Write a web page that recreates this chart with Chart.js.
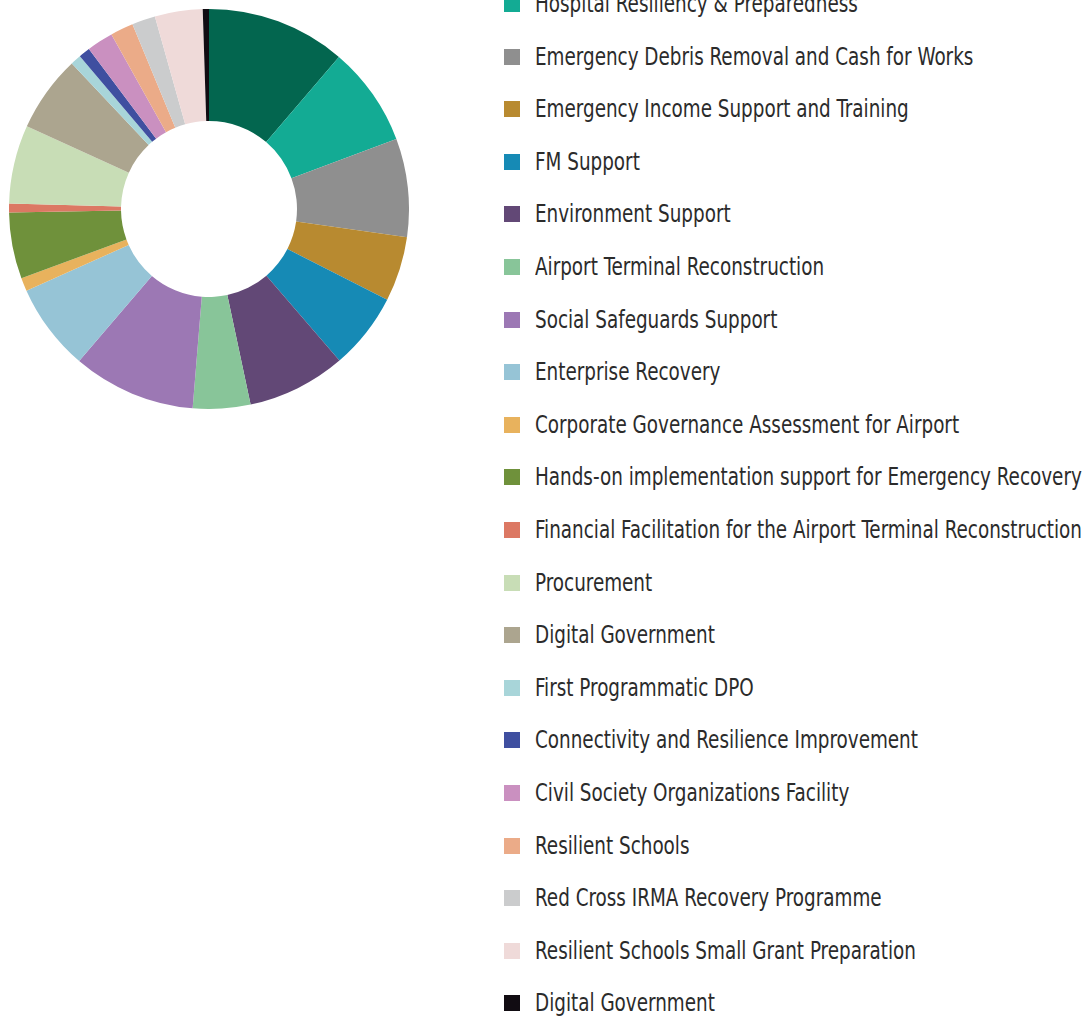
<!DOCTYPE html>
<html>
<head>
<meta charset="utf-8">
<script src="https://cdn.jsdelivr.net/npm/chart.js@4"></script>
<style>
  html, body { margin: 0; padding: 0; background: #fff; overflow: hidden; width: 1089px; height: 1019px; }
  #wrap { position: absolute; left: 9px; top: 9px; width: 400px; height: 400px; }
  #legend { position: absolute; left: 504px; top: -74.8px; margin: 0; padding: 0; list-style: none; }
  #legend li { height: 52.6px; display: flex; align-items: center; white-space: nowrap; }
  #legend .box { width: 16px; height: 16px; flex: none; }
  #legend .txt {
    margin-left: 14.5px; color: #2b2b2b; font-size: 24px;
    font-family: 'DejaVu Sans Condensed', 'DejaVu Sans', sans-serif; font-stretch: condensed;
    transform-origin: left center; display: inline-block;
  }
</style>
</head>
<body>
<div id="wrap"><canvas id="pie" width="400" height="400"></canvas></div>
<ul id="legend"></ul>
<script>
const LABELS = [
  "Emergency Recovery Project I",
  "Hospital Resiliency & Preparedness",
  "Emergency Debris Removal and Cash for Works",
  "Emergency Income Support and Training",
  "FM Support",
  "Environment Support",
  "Airport Terminal Reconstruction",
  "Social Safeguards Support",
  "Enterprise Recovery",
  "Corporate Governance Assessment for Airport",
  "Hands-on implementation support for Emergency Recovery",
  "Financial Facilitation for the Airport Terminal Reconstruction",
  "Procurement",
  "Digital Government",
  "First Programmatic DPO",
  "Connectivity and Resilience Improvement",
  "Civil Society Organizations Facility",
  "Resilient Schools",
  "Red Cross IRMA Recovery Programme",
  "Resilient Schools Small Grant Preparation",
  "Digital Government"
];

// share of the total, in %
const VALUES = [11.25, 8.06, 7.94, 5.25, 6.19, 7.97, 4.64, 9.94, 7.06, 1.06, 5.36,
                0.72, 6.33, 6.19, 0.86, 0.92, 2.14, 1.86, 1.89, 3.86, 0.50];

const COLORS = ["#03664f", "#13ab94", "#8f8f8f", "#b88a30", "#168ab5", "#624876",
                "#88c599", "#9c78b4", "#96c4d6", "#e8b25d", "#6f913b", "#dc7863",
                "#c8ddb6", "#aca58f", "#a8d5d9", "#3f4fa0", "#ca90c0", "#ebab88",
                "#cbcccd", "#efdad9", "#110c12"];

const chart = new Chart(document.getElementById("pie"), {
  type: "doughnut",
  data: {
    labels: LABELS,
    datasets: [{
      data: VALUES,
      backgroundColor: COLORS,
      borderWidth: 0
    }]
  },
  options: {
    responsive: false,
    animation: false,
    cutout: "44%",
    plugins: {
      legend: { display: false },
      tooltip: { enabled: false }
    }
  }
});

// html legend on the right
const UL = document.getElementById("legend");
const items = chart.options.plugins.legend.labels.generateLabels(chart);
items.forEach(it => {
  const li = document.createElement("li");
  const box = document.createElement("span");
  box.className = "box";
  box.style.background = it.fillStyle;
  const txt = document.createElement("span");
  txt.className = "txt";
  txt.textContent = it.text;
  li.appendChild(box);
  li.appendChild(txt);
  UL.appendChild(li);
});

// squeeze text to match the narrow face of the original
const spans = UL.querySelectorAll(".txt");
let widest = 0;
spans.forEach(s => { widest = Math.max(widest, s.getBoundingClientRect().width); });
const k = 547 / widest;
spans.forEach(s => { s.style.transform = `scaleX(${k})`; });
</script>
</body>
</html>
